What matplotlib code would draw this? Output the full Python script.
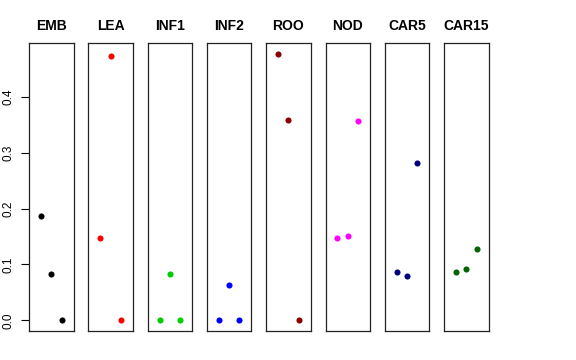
import matplotlib
matplotlib.use("Agg")
import matplotlib.pyplot as plt

W, H = 576, 360
panels = ["EMB", "LEA", "INF1", "INF2", "ROO", "NOD", "CAR5", "CAR15"]
colors = ["#000000", "#FF0000", "#00CD00", "#0000FF", "#8B0000", "#FF00FF", "#000080", "#006400"]
EMB = [0.187, 0.083, 0.0]
LEA = [0.148, 0.472, 0.0]
INF1 = [0.0, 0.083, 0.0]
INF2 = [0.0, 0.064, 0.0]
ROO = [0.477, 0.358, 0.0]
NOD = [0.147, 0.150, 0.356]
CAR5 = [0.087, 0.079, 0.281]
CAR15 = [0.087, 0.091, 0.128]
values = [EMB, LEA, INF1, INF2, ROO, NOD, CAR5, CAR15]
yticks = [0.0, 0.1, 0.2, 0.3, 0.4]
ytick_labels = ["0.0", "0.1", "0.2", "0.3", "0.4"]

fig = plt.figure(figsize=(W / 100, H / 100), dpi=100)
fig.patch.set_facecolor("white")

left0, pitch, pw = 29.0, 59.3, 44.5
top, bottom = 43.0, 331.0
ymax_all = max(max(v) for v in values)
pad = ymax_all * 0.04
for i, (name, col, vals) in enumerate(zip(panels, colors, values)):
    x0 = left0 + i * pitch
    ax = fig.add_axes([x0 / W, 1 - bottom / H, pw / W, (bottom - top) / H])
    ax.plot([1, 2, 3], vals, "o", color=col, ms=4.4, mec=col, mew=0)
    ax.set_xlim(-0.16, 4.16)
    ax.set_ylim(-pad, ymax_all + pad)
    ax.set_xticks([])
    for s in ax.spines.values():
        s.set_linewidth(0.9)
        s.set_color("#222222")
    ax.set_title(name, fontsize=10, fontweight="bold", pad=9, family="Liberation Sans")
    if i == 0:
        ax.set_yticks(yticks)
        ax.set_yticklabels(ytick_labels, rotation=90, va="center", family="Liberation Sans")
        ax.tick_params(axis="y", length=5.5, width=0.8, labelsize=8.5, pad=5)
    else:
        ax.set_yticks([])

fig.savefig("out.png", dpi=100, facecolor="white")
